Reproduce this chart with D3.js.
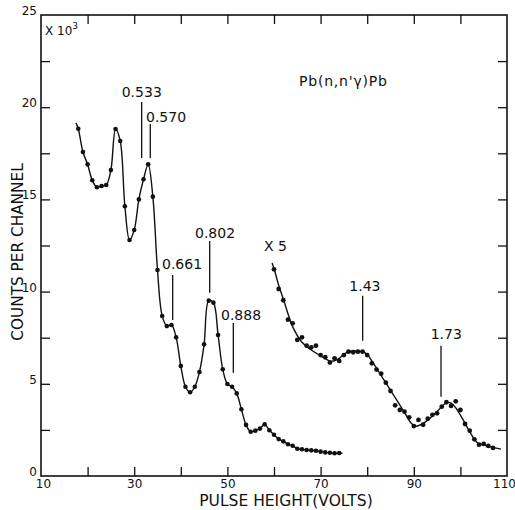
<!DOCTYPE html>
<html><head><meta charset="utf-8">
<script src="https://cdn.jsdelivr.net/npm/d3@7"></script>
<style>body{margin:0;background:#fff}text{font-family:"DejaVu Sans",sans-serif;fill:#111}</style>
</head><body><svg id="c" width="515" height="510"></svg>
<script>
// Main spectrum (counts per channel, x10^3)
const mainX = [18,19,20,21,22,23,24,25,26,27,28,29,30,31,32,33,34,35,36,37,38,39,40,41,42,43,44,45,46,47,48,49,50,51,52,53,54,55,56,57,58,59,60,61,62,63,64,65,66,67,68,69,70,71,72,73,74];
const mainY = [18.83,17.57,16.9,16.04,15.66,15.73,15.78,16.59,18.82,18.17,14.63,12.8,13.34,15.0,16.09,16.9,15.15,11.17,8.68,8.13,8.19,7.52,5.97,4.84,4.54,4.84,5.64,7.14,9.51,9.4,7.65,5.79,4.99,4.84,4.48,3.62,2.77,2.4,2.46,2.57,2.8,2.48,2.24,2.0,1.88,1.72,1.64,1.48,1.45,1.41,1.39,1.37,1.32,1.28,1.26,1.23,1.25];
const mainLineStart = [17.5, 19.15];
const mainLineEnd = [74.7, 1.23];
// High-energy part, multiplied by 5
const x5X = [60,61,62,63,64,65,66,67,68,69,70,71,72,73,74,75,76,77,78,79,80,81,82,83,84,85,86,87,88,89,90,91,92,93,94,95,96,97,98,99,100,101,102,103,104,105,106,107];
const x5Y = [11.21,10.14,9.53,8.48,8.28,7.38,7.52,7.07,6.98,7.07,6.56,6.44,6.15,6.38,6.24,6.56,6.74,6.71,6.74,6.74,6.56,6.11,5.77,5.55,5.06,4.61,3.83,3.58,3.49,3.18,2.71,3.04,2.78,3.11,3.32,3.4,3.76,4.0,3.8,4.05,3.58,2.82,2.46,1.99,1.7,1.74,1.63,1.52];
// Hand-drawn smooth fit through the x5 points
const fitX = [59.6,60,61,62,63,64,66,68,70,72,73,74,75,76,79,80,81,82,84,86,88,89.5,90.5,92,94,96,97,98,99,100,101,102,103,103.8,105,106.5,108.7];
const fitY = [11.55,11.25,10.35,9.6,8.8,8.1,7.25,6.83,6.52,6.24,6.25,6.38,6.6,6.74,6.74,6.6,6.24,5.85,5.05,4.25,3.45,2.85,2.7,2.85,3.25,3.75,3.98,3.95,3.7,3.3,2.86,2.4,2.0,1.77,1.68,1.58,1.46];
// Gamma-ray energy markers (MeV)
const peakLabels = ["0.533","0.570","0.661","0.802","0.888","1.43","1.73"];
const peakX = [31.6,33.45,38.26,46.2,51.27,79.03,95.84];
const peakTop = [20.28,19.09,10.9,12.74,8.3,9.78,7.07];
const peakBottom = [17.25,17.25,8.46,9.94,5.6,7.34,4.3];
const peakTextX = [27.32,32.53,35.97,43.05,48.63,76.16,93.63];
const peakTextY = [20.55,19.2,11.23,12.91,8.46,10.05,7.45];
// Axes
const xTickLabels = [10,30,50,70,90,110];
const xMinorTicks = [20,30,40,50,60,70,80,90,100];
const yTickLabels = [0,5,10,15,20,25];
const yMinorTicks = [2.5,5,7.5,10,12.5,15,17.5,20,22.5];

const svg = d3.select("#c");
const L=41,R=507,T=15,B=476;
const x = d3.scaleLinear().domain([10,110]).range([L,R]);
const y = d3.scaleLinear().domain([0,25]).range([B,T]);

// frame
svg.append("rect").attr("x",L).attr("y",T).attr("width",R-L).attr("height",B-T)
  .attr("fill","none").attr("stroke","#111").attr("stroke-width",1.6);

const tk = 9;
const styleTicks = g=>{g.select(".domain").remove();g.selectAll("line").attr("stroke","#111").attr("stroke-width",1.3);};
svg.append("g").attr("transform",`translate(0,${B})`)
  .call(d3.axisBottom(x).tickValues(xMinorTicks).tickSize(-tk).tickFormat("")).call(styleTicks);
svg.append("g").attr("transform",`translate(0,${T})`)
  .call(d3.axisTop(x).tickValues(xMinorTicks).tickSize(-tk).tickFormat("")).call(styleTicks);
svg.append("g").attr("transform",`translate(${L},0)`)
  .call(d3.axisLeft(y).tickValues(yMinorTicks).tickSize(-tk).tickFormat("")).call(styleTicks);
svg.append("g").attr("transform",`translate(${R},0)`)
  .call(d3.axisRight(y).tickValues(yMinorTicks).tickSize(-tk).tickFormat("")).call(styleTicks);

// tick labels
svg.append("g").attr("transform",`translate(0,${B})`)
  .call(d3.axisBottom(x).tickValues(xTickLabels).tickSize(0).tickPadding(3).tickFormat(d=>d))
  .call(g=>{g.select(".domain").remove();
    g.selectAll("text").style("font-size","12px").style("font-family","DejaVu Sans").attr("fill","#111")
     .attr("dx",d=>d===110?"-3":d===10?"2":"0");});
svg.append("g").attr("transform",`translate(${L},0)`)
  .call(d3.axisLeft(y).tickValues(yTickLabels).tickSize(0).tickPadding(4).tickFormat(d=>d))
  .call(g=>{g.select(".domain").remove();g.selectAll("text").style("font-size","12px").style("font-family","DejaVu Sans").attr("fill","#111").attr("dy","-0.05em");});

// axis titles
svg.append("text").attr("x",286).attr("y",506).attr("text-anchor","middle")
  .style("font-size","15.5px").text("PULSE HEIGHT(VOLTS)");
svg.append("text").attr("transform","translate(23,252) rotate(-90)").attr("text-anchor","middle")
  .style("font-size","15.3px").text("COUNTS PER CHANNEL");

// scale note
const sc = svg.append("text").attr("x",45).attr("y",35).style("font-size","12px");
sc.append("tspan").text("X 10");
sc.append("tspan").attr("dy",-6).style("font-size","9px").text("3");

svg.append("text").attr("x",299).attr("y",86).style("font-size","14px").style("letter-spacing","0.8px").text("Pb(n,n'γ)Pb");
svg.append("text").attr("x",264).attr("y",251).style("font-size","14px").text("X 5");

// curves
const line = d3.line().x(d=>x(d[0])).y(d=>y(d[1])).curve(d3.curveCatmullRom.alpha(0.5));
const mainPts = mainX.map((v,i)=>[v,mainY[i]]);
svg.append("path").datum([mainLineStart,...mainPts,mainLineEnd]).attr("d",line)
  .attr("fill","none").attr("stroke","#111").attr("stroke-width",1.4);
const fitPts = fitX.map((v,i)=>[v,fitY[i]]);
svg.append("path").datum(fitPts).attr("d",line)
  .attr("fill","none").attr("stroke","#111").attr("stroke-width",1.4);

// points
svg.append("g").selectAll("circle").data(mainPts).join("circle")
  .attr("cx",d=>x(d[0])).attr("cy",d=>y(d[1])).attr("r",2.3).attr("fill","#111");
const x5Pts = x5X.map((v,i)=>[v,x5Y[i]]);
svg.append("g").selectAll("circle").data(x5Pts).join("circle")
  .attr("cx",d=>x(d[0])).attr("cy",d=>y(d[1])).attr("r",2.4).attr("fill","#111");

// peak markers
const pk = svg.append("g");
peakLabels.forEach((lab,i)=>{
  pk.append("line").attr("x1",x(peakX[i])).attr("x2",x(peakX[i]))
    .attr("y1",y(peakTop[i])).attr("y2",y(peakBottom[i]))
    .attr("stroke","#111").attr("stroke-width",1.3);
  pk.append("text").attr("x",x(peakTextX[i])).attr("y",y(peakTextY[i]))
    .style("font-size","14px").text(lab);
});
</script></body></html>
